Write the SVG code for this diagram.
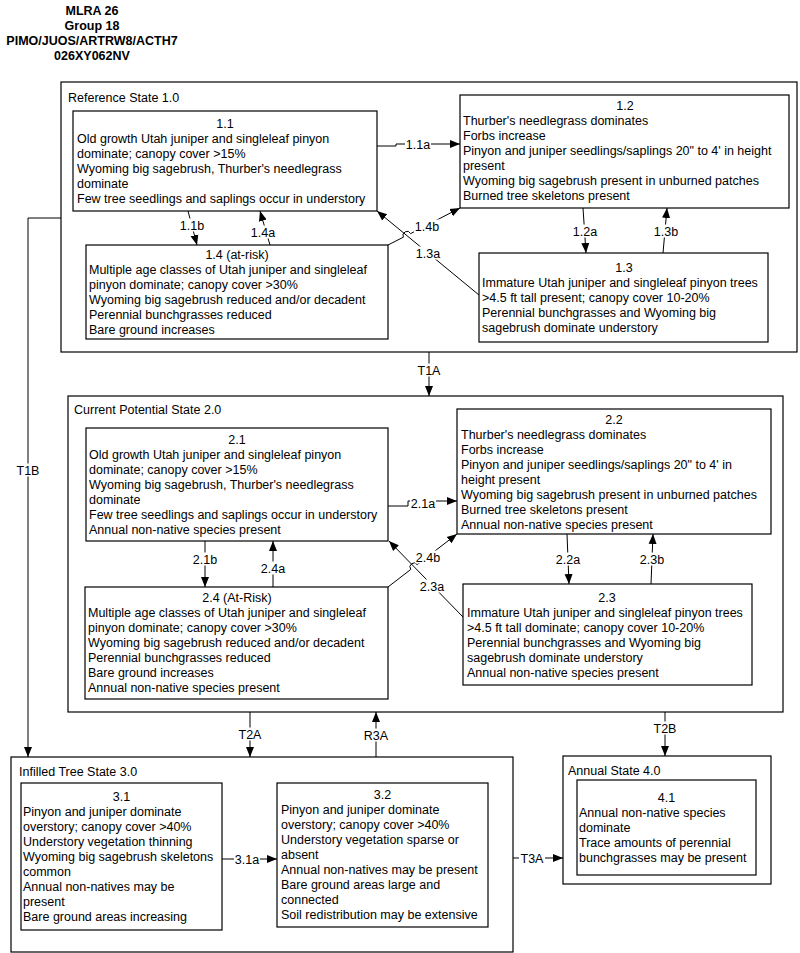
<svg xmlns="http://www.w3.org/2000/svg" width="800" height="953" viewBox="0 0 800 953">
<style>
text{font-family:"Liberation Sans",Arial,sans-serif;font-size:12.5px;fill:#000}
.hdr{font-weight:bold;text-anchor:middle}
.c{text-anchor:middle}
.state{fill:#fff;stroke:#000;stroke-width:1.2}
.box{fill:#fff;stroke:#000;stroke-width:1.2}
.ln{fill:none;stroke:#000;stroke-width:1}
.lbl{text-anchor:middle}
.bg{fill:#fff;stroke:none}
</style>
<defs>
<marker id="ah" markerUnits="userSpaceOnUse" markerWidth="10" markerHeight="10" viewBox="0 0 10 10" refX="10" refY="5" orient="auto">
<path d="M0,1 L10,5 L0,9 Z" fill="#000"/>
</marker>
</defs>
<rect width="800" height="953" fill="#fff"/>
<g id="header">
<text class="hdr" x="92" y="15.2">MLRA 26</text>
<text class="hdr" x="92" y="30.2">Group 18</text>
<text class="hdr" x="92" y="45.2">PIMO/JUOS/ARTRW8/ACTH7</text>
<text class="hdr" x="92" y="60.2">026XY062NV</text>
</g>
<g id="state1">
<rect class="state" x="61" y="82" width="736" height="270"/>
<text x="68" y="101.5">Reference State 1.0</text>
</g>
<g id="state2">
<rect class="state" x="68" y="396" width="715" height="316"/>
<text x="74" y="413.5">Current Potential State 2.0</text>
</g>
<g id="state3">
<rect class="state" x="11" y="757" width="502" height="195"/>
<text x="19" y="775.5">Infilled Tree State 3.0</text>
</g>
<g id="state4">
<rect class="state" x="563" y="756" width="208" height="128"/>
<text x="568" y="774.5">Annual State 4.0</text>
</g>
<g id="n1_1">
<rect class="box" x="73" y="111" width="304" height="100"/>
<text class="c" x="225" y="127.5">1.1</text>
<text x="77" y="142.5">Old growth Utah juniper and singleleaf pinyon</text>
<text x="77" y="157.5">dominate; canopy cover &gt;15%</text>
<text x="77" y="172.5">Wyoming big sagebrush, Thurber's needlegrass</text>
<text x="77" y="187.5">dominate</text>
<text x="77" y="202.5">Few tree seedlings and saplings occur in understory</text>
</g>
<g id="n1_2">
<rect class="box" x="460" y="95" width="329" height="113"/>
<text class="c" x="625" y="109.5">1.2</text>
<text x="463" y="124.5">Thurber's needlegrass dominates</text>
<text x="463" y="139.5">Forbs increase</text>
<text x="463" y="154.5">Pinyon and juniper seedlings/saplings 20" to 4' in height</text>
<text x="463" y="169.5">present</text>
<text x="463" y="184.5">Wyoming big sagebrush present in unburned patches</text>
<text x="463" y="199.5">Burned tree skeletons present</text>
</g>
<g id="n1_3">
<rect class="box" x="479" y="253" width="289" height="89"/>
<text class="c" x="624" y="271.5">1.3</text>
<text x="482" y="286.5">Immature Utah juniper and singleleaf pinyon trees</text>
<text x="482" y="301.5">&gt;4.5 ft tall present; canopy cover 10-20%</text>
<text x="482" y="316.5">Perennial bunchgrasses and Wyoming big</text>
<text x="482" y="331.5">sagebrush dominate understory</text>
</g>
<g id="n1_4">
<rect class="box" x="86" y="245" width="302" height="94"/>
<text class="c" x="237" y="258.5">1.4 (at-risk)</text>
<text x="89" y="273.5">Multiple age classes of Utah juniper and singleleaf</text>
<text x="89" y="288.5">pinyon dominate; canopy cover &gt;30%</text>
<text x="89" y="303.5">Wyoming big sagebrush reduced and/or decadent</text>
<text x="89" y="318.5">Perennial bunchgrasses reduced</text>
<text x="89" y="333.5">Bare ground increases</text>
</g>
<g id="n2_1">
<rect class="box" x="86" y="428" width="302" height="113"/>
<text class="c" x="237" y="443.5">2.1</text>
<text x="89" y="458.5">Old growth Utah juniper and singleleaf pinyon</text>
<text x="89" y="473.5">dominate; canopy cover &gt;15%</text>
<text x="89" y="488.5">Wyoming big sagebrush, Thurber's needlegrass</text>
<text x="89" y="503.5">dominate</text>
<text x="89" y="518.5">Few tree seedlings and saplings occur in understory</text>
<text x="89" y="533.5">Annual non-native species present</text>
</g>
<g id="n2_2">
<rect class="box" x="457" y="409" width="314" height="125"/>
<text class="c" x="614" y="423.5">2.2</text>
<text x="461" y="438.5">Thurber's needlegrass dominates</text>
<text x="461" y="453.5">Forbs increase</text>
<text x="461" y="468.5">Pinyon and juniper seedlings/saplings 20" to 4' in</text>
<text x="461" y="483.5">height present</text>
<text x="461" y="498.5">Wyoming big sagebrush present in unburned patches</text>
<text x="461" y="513.5">Burned tree skeletons present</text>
<text x="461" y="528.5">Annual non-native species present</text>
</g>
<g id="n2_3">
<rect class="box" x="463" y="584" width="289" height="101"/>
<text class="c" x="607" y="601.5">2.3</text>
<text x="467" y="616.5">Immature Utah juniper and singleleaf pinyon trees</text>
<text x="467" y="631.5">&gt;4.5 ft tall dominate; canopy cover 10-20%</text>
<text x="467" y="646.5">Perennial bunchgrasses and Wyoming big</text>
<text x="467" y="661.5">sagebrush dominate understory</text>
<text x="467" y="676.5">Annual non-native species present</text>
</g>
<g id="n2_4">
<rect class="box" x="85" y="587" width="303" height="112"/>
<text class="c" x="237" y="601.5">2.4 (At-Risk)</text>
<text x="88" y="616.5">Multiple age classes of Utah juniper and singleleaf</text>
<text x="88" y="631.5">pinyon dominate; canopy cover &gt;30%</text>
<text x="88" y="646.5">Wyoming big sagebrush reduced and/or decadent</text>
<text x="88" y="661.5">Perennial bunchgrasses reduced</text>
<text x="88" y="676.5">Bare ground increases</text>
<text x="88" y="691.5">Annual non-native species present</text>
</g>
<g id="n3_1">
<rect class="box" x="21" y="783" width="201" height="147"/>
<text class="c" x="121.5" y="800.5">3.1</text>
<text x="23" y="815.5">Pinyon and juniper dominate</text>
<text x="23" y="830.5">overstory; canopy cover &gt;40%</text>
<text x="23" y="845.5">Understory vegetation thinning</text>
<text x="23" y="860.5">Wyoming big sagebrush skeletons</text>
<text x="23" y="875.5">common</text>
<text x="23" y="890.5">Annual non-natives may be</text>
<text x="23" y="905.5">present</text>
<text x="23" y="920.5">Bare ground areas increasing</text>
</g>
<g id="n3_2">
<rect class="box" x="277" y="783" width="211" height="144"/>
<text class="c" x="382.5" y="798.5">3.2</text>
<text x="281" y="813.5">Pinyon and juniper dominate</text>
<text x="281" y="828.5">overstory; canopy cover &gt;40%</text>
<text x="281" y="843.5">Understory vegetation sparse or</text>
<text x="281" y="858.5">absent</text>
<text x="281" y="873.5">Annual non-natives may be present</text>
<text x="281" y="888.5">Bare ground areas large and</text>
<text x="281" y="903.5">connected</text>
<text x="281" y="918.5">Soil redistribution may be extensive</text>
</g>
<g id="n4_1">
<rect class="box" x="577" y="780" width="179" height="95"/>
<text class="c" x="666.5" y="801.5">4.1</text>
<text x="579" y="816.5">Annual non-native species</text>
<text x="579" y="831.5">dominate</text>
<text x="579" y="846.5">Trace amounts of perennial</text>
<text x="579" y="861.5">bunchgrasses may be present</text>
</g>
<g id="connectors">
<path class="ln" d="M377,146 H396 V144 H460" marker-end="url(#ah)"/>
<path class="ln" d="M188,211 L197,245" marker-end="url(#ah)"/>
<path class="ln" d="M270,245 L260,211" marker-end="url(#ah)"/>
<path class="ln" d="M388,245 L403.4,237.2 A4,4 0 0 1 410.6,233.6 L460,208" marker-end="url(#ah)"/>
<path class="ln" d="M479,295 L377,211" marker-end="url(#ah)"/>
<path class="ln" d="M583,208 L586,253" marker-end="url(#ah)"/>
<path class="ln" d="M663,253 L667,208" marker-end="url(#ah)"/>
<path class="ln" d="M429,352 V396" marker-end="url(#ah)"/>
<path class="ln" d="M61,218 H28 V757" marker-end="url(#ah)"/>
<path class="ln" d="M388,506 H408 V501 H457" marker-end="url(#ah)"/>
<path class="ln" d="M205,541 V587" marker-end="url(#ah)"/>
<path class="ln" d="M273,587 V541" marker-end="url(#ah)"/>
<path class="ln" d="M388,587 L410.8,569.4 A4,4 0 0 1 417.2,564.6 L457,534" marker-end="url(#ah)"/>
<path class="ln" d="M463,617 L389,541" marker-end="url(#ah)"/>
<path class="ln" d="M567,534 L569,584" marker-end="url(#ah)"/>
<path class="ln" d="M651,584 L653,534" marker-end="url(#ah)"/>
<path class="ln" d="M250,712 V757" marker-end="url(#ah)"/>
<path class="ln" d="M376,757 V712" marker-end="url(#ah)"/>
<path class="ln" d="M665,712 V756" marker-end="url(#ah)"/>
<path class="ln" d="M222,859 H277" marker-end="url(#ah)"/>
<path class="ln" d="M513,858 H563" marker-end="url(#ah)"/>
<rect class="bg" x="405" y="137.5" width="26" height="13"/>
<rect class="bg" x="179" y="218.5" width="26" height="13"/>
<rect class="bg" x="250" y="225.5" width="26" height="13"/>
<rect class="bg" x="414" y="219.5" width="26" height="13"/>
<rect class="bg" x="415" y="246.5" width="26" height="13"/>
<rect class="bg" x="572" y="224.5" width="26" height="13"/>
<rect class="bg" x="653" y="224.5" width="26" height="13"/>
<rect class="bg" x="416" y="363.5" width="26" height="13"/>
<rect class="bg" x="15" y="463.5" width="26" height="13"/>
<rect class="bg" x="410" y="496.5" width="26" height="13"/>
<rect class="bg" x="192" y="552.5" width="26" height="13"/>
<rect class="bg" x="260" y="561.5" width="26" height="13"/>
<rect class="bg" x="415" y="550.5" width="26" height="13"/>
<rect class="bg" x="419" y="579.5" width="26" height="13"/>
<rect class="bg" x="555" y="552.5" width="26" height="13"/>
<rect class="bg" x="639" y="552.5" width="26" height="13"/>
<rect class="bg" x="237" y="727.5" width="26" height="13"/>
<rect class="bg" x="363" y="728.5" width="26" height="13"/>
<rect class="bg" x="652" y="721.5" width="26" height="13"/>
<rect class="bg" x="234" y="852.5" width="26" height="13"/>
<rect class="bg" x="519" y="851.5" width="26" height="13"/>
<text class="lbl" x="418" y="148.5">1.1a</text>
<text class="lbl" x="192" y="229.5">1.1b</text>
<text class="lbl" x="263" y="236.5">1.4a</text>
<text class="lbl" x="427" y="230.5">1.4b</text>
<text class="lbl" x="428" y="257.5">1.3a</text>
<text class="lbl" x="585" y="235.5">1.2a</text>
<text class="lbl" x="666" y="235.5">1.3b</text>
<text class="lbl" x="429" y="374.5">T1A</text>
<text class="lbl" x="28" y="474.5">T1B</text>
<text class="lbl" x="423" y="507.5">2.1a</text>
<text class="lbl" x="205" y="563.5">2.1b</text>
<text class="lbl" x="273" y="572.5">2.4a</text>
<text class="lbl" x="428" y="561.5">2.4b</text>
<text class="lbl" x="432" y="590.5">2.3a</text>
<text class="lbl" x="568" y="563.5">2.2a</text>
<text class="lbl" x="652" y="563.5">2.3b</text>
<text class="lbl" x="250" y="738.5">T2A</text>
<text class="lbl" x="376" y="739.5">R3A</text>
<text class="lbl" x="665" y="732.5">T2B</text>
<text class="lbl" x="247" y="863.5">3.1a</text>
<text class="lbl" x="532" y="862.5">T3A</text>
</g>
</svg>
